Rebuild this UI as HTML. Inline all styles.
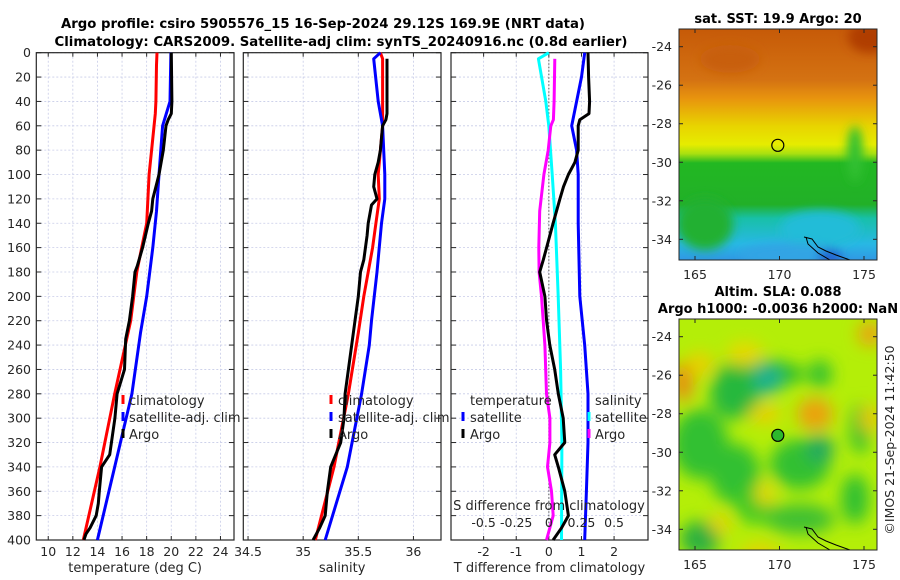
<!DOCTYPE html>
<html><head><meta charset="utf-8"><style>
html,body{margin:0;padding:0;background:#fff;width:900px;height:580px;overflow:hidden}
svg text{font-family:"DejaVu Sans","Liberation Sans",sans-serif;fill:#262626}
</style></head><body>
<svg id="fig" xmlns="http://www.w3.org/2000/svg" width="900" height="580" viewBox="0 0 900 580">
<defs>
<linearGradient id="sstg" x1="0" y1="0" x2="0" y2="1">
<stop offset="0" stop-color="#c65a08"/><stop offset="0.22" stop-color="#d47212"/>
<stop offset="0.3" stop-color="#e8940e"/><stop offset="0.42" stop-color="#e8d400"/>
<stop offset="0.5" stop-color="#e6ec00"/><stop offset="0.54" stop-color="#a8e010"/>
<stop offset="0.58" stop-color="#22b822"/><stop offset="0.76" stop-color="#22b028"/>
<stop offset="0.82" stop-color="#18c0a8"/><stop offset="0.93" stop-color="#28b8e4"/>
<stop offset="1" stop-color="#3098e4"/></linearGradient>
<filter id="blur4"><feGaussianBlur stdDeviation="5"/></filter>
<filter id="blur8"><feGaussianBlur stdDeviation="8"/></filter>
<clipPath id="m1clip"><rect x="679" y="29" width="198" height="231"/></clipPath>
<clipPath id="m2clip"><rect x="679" y="319" width="198" height="231"/></clipPath>
</defs>
<text x="323" y="28" font-size="13" font-weight="bold" text-anchor="middle" textLength="524" lengthAdjust="spacingAndGlyphs" style="fill:#000">Argo profile: csiro 5905576_15 16-Sep-2024 29.12S 169.9E (NRT data)</text>
<text x="341" y="46" font-size="13" font-weight="bold" text-anchor="middle" textLength="573" lengthAdjust="spacingAndGlyphs" style="fill:#000">Climatology: CARS2009. Satellite-adj clim: synTS_20240916.nc (0.8d earlier)</text>
<g id="panels"></g>
<g id="maps"></g>
<text transform="translate(894,440) rotate(-90)" font-size="12.5" text-anchor="middle">©IMOS 21-Sep-2024 11:42:50</text>
</svg>
<script>
// ---- data (depth in m) ----
const tClimDepth=[0,10,40,50,80,100,140,160,180,220,280,340,400];
const tClimVal=[18.84,18.8,18.75,18.7,18.4,18.2,18.0,17.6,17.2,16.7,15.4,14.2,12.85];
const tSatDepth=[0,40,60,100,130,160,200,230,280,340,400];
const tSatVal=[19.97,19.9,19.3,19.0,18.8,18.5,18.0,17.5,16.8,15.4,14.0];
const tArgoDepth=[0,40,50,55,60,80,100,110,120,130,140,160,175,180,200,220,235,260,280,300,330,340,360,370,380,390,395,400];
const tArgoVal=[20.0,20.05,20.0,19.75,19.57,19.35,19.0,18.75,18.5,18.4,18.13,17.67,17.24,17.05,16.86,16.6,16.3,16.2,15.6,15.42,15.0,14.34,14.15,14.07,13.9,13.4,13.07,12.9];
const sClimDepth=[0,5,50,60,80,100,120,140,160,180,200,230,280,340,400];
const sClimVal=[35.70,35.72,35.72,35.72,35.70,35.68,35.69,35.66,35.63,35.59,35.55,35.5,35.41,35.28,35.11];
const sSatDepth=[0,5,40,60,80,100,120,140,180,220,240,280,340,400];
const sSatVal=[35.70,35.64,35.68,35.72,35.73,35.74,35.74,35.71,35.67,35.62,35.60,35.53,35.40,35.2];
const sArgoDepth=[5,50,55,60,80,90,100,110,120,125,140,150,170,180,200,220,240,280,300,320,340,360,380,390,400];
const sArgoVal=[35.76,35.76,35.75,35.72,35.7,35.68,35.65,35.64,35.67,35.62,35.59,35.58,35.55,35.52,35.5,35.47,35.44,35.38,35.37,35.34,35.25,35.22,35.2,35.15,35.09];
const dTSatDepth=[0,20,40,60,80,100,140,200,240,280,320,360,400];
const dTSatVal=[1.1,1.0,0.85,0.7,0.85,0.9,0.9,0.95,1.1,1.2,1.2,1.15,1.1];
const dTArgoDepth=[0,20,40,50,55,60,80,90,100,110,120,140,160,170,180,200,220,240,260,280,300,320,330,340,360,380,390,400];
const dTArgoVal=[1.2,1.22,1.25,1.23,0.95,0.9,0.9,0.8,0.6,0.45,0.34,0.13,-0.07,-0.17,-0.28,-0.12,-0.07,0.03,0.18,0.29,0.44,0.49,0.18,0.29,0.49,0.6,0.39,0.13];
const dSSatDepth=[0,5,40,60,100,140,200,260,320,400];
const dSSatVal=[0,-0.08,-0.023,0,0.026,0.05,0.072,0.09,0.1,0.097];
const dSArgoDepth=[5,40,55,60,80,100,130,160,180,200,240,280,300,320,340,360,380,400];
const dSArgoVal=[0.046,0.04,0.035,0.015,-0.005,-0.038,-0.07,-0.077,-0.075,-0.056,-0.03,-0.018,0.008,0.008,-0.01,0.02,0.033,-0.018];
const depthTicks=[0,20,40,60,80,100,120,140,160,180,200,220,240,260,280,300,320,340,360,380,400];
const tTicks=[10,12,14,16,18,20,22,24];
const sTicks=[34.5,35,35.5,36];
const sTickLabels=['34.5','35','35.5','36'];
const dTTicks=[-2,-1,0,1,2];
const dSTicks=[-0.5,-0.25,0,0.25,0.5];
const dSTickLabels=['-0.5','-0.25','0','0.25','0.5'];
const latTicks=[-24,-26,-28,-30,-32,-34];
const lonTicks=[165,170,175];
const argoLon=169.9, argoLat=-29.12;

const NS='http://www.w3.org/2000/svg';
const Y0=52.7, Y1=540;
const yDepth=d=>Y0+(d/400)*(Y1-Y0);
function mk(tag,attrs,parent){const e=document.createElementNS(NS,tag);for(const k in attrs)e.setAttribute(k,attrs[k]);parent.appendChild(e);return e;}
const G=document.getElementById('panels');

function panel(name,x0,x1,xmin,xmax,ticks,labels,xlabel,showDepth){
  const g=mk('g',{},G);
  
  
  const xs=v=>x0+(v-xmin)/(xmax-xmin)*(x1-x0);
  ticks.forEach(t=>{const l=mk('line',{x1:xs(t),x2:xs(t),y1:Y0,y2:Y1,stroke:'#c8cce8','stroke-width':0.8,'stroke-dasharray':'2,2'},g);
    });
  depthTicks.forEach(d=>{const l=mk('line',{x1:x0,x2:x1,y1:yDepth(d),y2:yDepth(d),stroke:'#c8cce8','stroke-width':0.8,'stroke-dasharray':'2,2'},g);
    });
  ticks.forEach((t,i)=>{mk('line',{x1:xs(t),x2:xs(t),y1:Y1,y2:Y1-4,stroke:'#262626'},g);mk('line',{x1:xs(t),x2:xs(t),y1:Y0,y2:Y0+4,stroke:'#262626'},g);
    if(labels){const tx=mk('text',{x:xs(t),y:Y1+16,'font-size':12.5,'text-anchor':'middle'},g);tx.textContent=labels[i];
      }});
  depthTicks.forEach(d=>{mk('line',{x1:x0,x2:x0+5,y1:yDepth(d),y2:yDepth(d),stroke:'#262626'},g);mk('line',{x1:x1,x2:x1-5,y1:yDepth(d),y2:yDepth(d),stroke:'#262626'},g);
    if(showDepth){const tx=mk('text',{x:31,y:yDepth(d)+4.5,'font-size':12.5,'text-anchor':'end'},g);tx.textContent=d;
      }});
  const bx=mk('rect',{x:x0,y:Y0,width:x1-x0,height:Y1-Y0,fill:'none',stroke:'#262626','stroke-width':1.2},g);
  
  const xl=mk('text',{x:(x0+x1)/2,y:572,'font-size':13,'text-anchor':'middle'},g);xl.textContent=xlabel;
  
  return {g,xs};
}
function line(p,depths,vals,color,name){
  const pts=depths.map((d,i)=>p.xs(vals[i]).toFixed(1)+','+yDepth(d).toFixed(1)).join(' ');
  const l=mk('polyline',{points:pts,fill:'none',stroke:color,'stroke-width':3,'stroke-linejoin':'round'},p.g);
  
  
}
function legText(g,x,y,s,name){const t=mk('text',{x:x,y:y,'font-size':13},g);t.textContent=s;
  }
function legMark(g,x,y,c){const l=mk('line',{x1:x,x2:x,y1:y-10,y2:y-1,stroke:c,'stroke-width':3},g);
  }

const p1=panel('temperature-panel',36.3,234,9.03,25.1,tTicks,tTicks.map(String),'temperature (deg C)',true);
line(p1,tClimDepth,tClimVal,'#ff0000','temp-climatology-line');
line(p1,tSatDepth,tSatVal,'#0000ff','temp-satellite-line');
line(p1,tArgoDepth,tArgoVal,'#000000','temp-argo-line');
[['climatology','#ff0000'],['satellite-adj. clim','#0000ff'],['Argo','#000000']].forEach((e,i)=>{const y=405+i*17;legMark(p1.g,123,y,e[1]);legText(p1.g,129,y,e[0],'legend-entry');});

const p2=panel('salinity-panel',243.3,441,34.457,36.25,sTicks,sTickLabels,'salinity',false);
line(p2,sClimDepth,sClimVal,'#ff0000','sal-climatology-line');
line(p2,sSatDepth,sSatVal,'#0000ff','sal-satellite-line');
line(p2,sArgoDepth,sArgoVal,'#000000','sal-argo-line');
[['climatology','#ff0000'],['satellite-adj. clim','#0000ff'],['Argo','#000000']].forEach((e,i)=>{const y=405+i*17;legMark(p2.g,331,y,e[1]);legText(p2.g,338,y,e[0],'legend-entry');});

const p3=panel('difference-panel',451,648,-3.0,3.04,dTTicks,dTTicks.map(String),'T difference from climatology',false);
const z=mk('line',{x1:p3.xs(0),x2:p3.xs(0),y1:Y0,y2:Y1,stroke:'#555','stroke-width':1,'stroke-dasharray':'1.5,2'},p3.g);

const pS={g:p3.g,xs:v=>p3.xs(v*4)};
line(pS,dSSatDepth,dSSatVal,'#00ffff','sal-diff-satellite-line');
line(pS,dSArgoDepth,dSArgoVal,'#ff00ff','sal-diff-argo-line');
line(p3,dTSatDepth,dTSatVal,'#0000ff','temp-diff-satellite-line');
line(p3,dTArgoDepth,dTArgoVal,'#000000','temp-diff-argo-line');
legText(p3.g,470,405,'temperature','legend-header-temperature');
legMark(p3.g,463,422,'#0000ff');legText(p3.g,470,422,'satellite','legend-entry');
legMark(p3.g,463,439,'#000000');legText(p3.g,470,439,'Argo','legend-entry');
legText(p3.g,595,405,'salinity','legend-header-salinity');
legMark(p3.g,589,422,'#00ffff');legText(p3.g,595,422,'satellite','legend-entry');
legMark(p3.g,589,439,'#ff00ff');legText(p3.g,595,439,'Argo','legend-entry');
const st=mk('text',{x:549,y:510,'font-size':13,'text-anchor':'middle'},p3.g);st.textContent='S difference from climatology';

dSTicks.forEach((s,i)=>{const t=mk('text',{x:pS.xs(s),y:527,'font-size':12.5,'text-anchor':'middle'},p3.g);t.textContent=dSTickLabels[i];
  });

const M=document.getElementById('maps');
const lonX=lon=>695+(lon-165)*16.9;
function map(name,top,clip,title,fillFn){
  const latY=lat=>top+17.7+(-24-lat)*19.26;
  const g=mk('g',{},M);
  
  
  const im=mk('g',{'clip-path':'url(#'+clip+')'},g);
  fillFn(im,top);
  const c=mk('polyline',{points:`804,${top+208} 812,${top+210} 818,${top+218} 826,${top+222} 836,${top+226} 850,${top+231}`,fill:'none',stroke:'#000','stroke-width':1},im);
  
  const c2=mk('polyline',{points:`806,${top+208} 808,${top+215} 818,${top+224} 830,${top+231}`,fill:'none',stroke:'#000','stroke-width':1},im);
  
  const ax=mk('rect',{x:679,y:top,width:198,height:231,fill:'none',stroke:'#262626','stroke-width':1},g);
  
  latTicks.forEach(l=>{mk('line',{x1:679,x2:683,y1:latY(l),y2:latY(l),stroke:'#262626'},g);mk('line',{x1:877,x2:873,y1:latY(l),y2:latY(l),stroke:'#262626'},g);
    const t=mk('text',{x:672,y:latY(l)+4.5,'font-size':12.5,'text-anchor':'end'},g);t.textContent=l;
    });
  lonTicks.forEach(l=>{mk('line',{x1:lonX(l),x2:lonX(l),y1:top+231,y2:top+227,stroke:'#262626'},g);mk('line',{x1:lonX(l),x2:lonX(l),y1:top,y2:top+4,stroke:'#262626'},g);
    const t=mk('text',{x:lonX(l),y:top+250,'font-size':12.5,'text-anchor':'middle'},g);t.textContent=l;
    });
  const pt=mk('circle',{cx:lonX(argoLon),cy:latY(argoLat),r:6,fill:name==='sla-map'?'#2cb82c':'none',stroke:'#000','stroke-width':1.2},g);
  
  title.forEach((s,i)=>{const t=mk('text',{x:778,y:top-(title.length-1-i)*17-6,'font-size':13,'font-weight':'bold','text-anchor':'middle'},g);t.textContent=s;t.style.fill='#000';
    });
}
map('sst-map',29,'m1clip',['sat. SST: 19.9 Argo: 20'],(g,top)=>{
  mk('rect',{x:679,y:top,width:198,height:231,fill:'url(#sstg)'},g);
  const b=mk('g',{filter:'url(#blur4)'},g);
  mk('ellipse',{cx:870,cy:top+8,rx:22,ry:16,fill:'#b03c06'},b);
  mk('ellipse',{cx:730,cy:top+30,rx:30,ry:14,fill:'#c85e0a'},b);
  mk('ellipse',{cx:855,cy:top+125,rx:8,ry:28,fill:'#30c030'},b);
  mk('ellipse',{cx:705,cy:top+195,rx:28,ry:26,fill:'#22b030'},b);
  mk('ellipse',{cx:820,cy:top+200,rx:40,ry:18,fill:'#24bcd8'},b);
  mk('ellipse',{cx:790,cy:top+226,rx:50,ry:12,fill:'#30a4e4'},b);
  mk('ellipse',{cx:830,cy:top+228,rx:12,ry:8,fill:'#2060d0'},b);
});
map('sla-map',319,'m2clip',['Altim. SLA: 0.088','Argo h1000: -0.0036 h2000: NaN'],(g,top)=>{
  mk('rect',{x:679,y:top,width:198,height:231,fill:'#b4ee08'},g);
  const b=mk('g',{filter:'url(#blur8)'},g);
  const blobs=[[760,55,45,14,'#2cbc2c'],[735,75,25,25,'#28b83c'],[768,60,14,16,'#1eb090'],[820,55,12,14,'#30c030'],[700,125,28,35,'#30c030'],[735,155,25,30,'#30c030'],[800,145,30,25,'#30c030'],[820,130,14,14,'#20a860'],[860,110,10,25,'#30c030'],[700,220,20,18,'#2cb040'],[800,200,35,15,'#40c030'],[855,180,14,25,'#30c030'],[755,185,20,20,'#40c828']];
  blobs.forEach(e=>mk('ellipse',{cx:e[0],cy:top+e[1],rx:e[2],ry:e[3],fill:e[4]},b));
  const warm=[[683,63,10,20,'#e88a10'],[700,45,14,12,'#e8d000'],[745,35,18,12,'#e8d800'],[815,95,18,16,'#eca010'],[765,95,16,10,'#e8d000'],[870,15,12,12,'#eca010'],[870,100,10,14,'#e8c800'],[765,175,10,12,'#e8d800'],[760,235,20,10,'#e8d000'],[720,205,10,10,'#e8d000']];
  warm.forEach(e=>mk('ellipse',{cx:e[0],cy:top+e[1],rx:e[2],ry:e[3],fill:e[4]},b));
});
</script>
</body></html>
